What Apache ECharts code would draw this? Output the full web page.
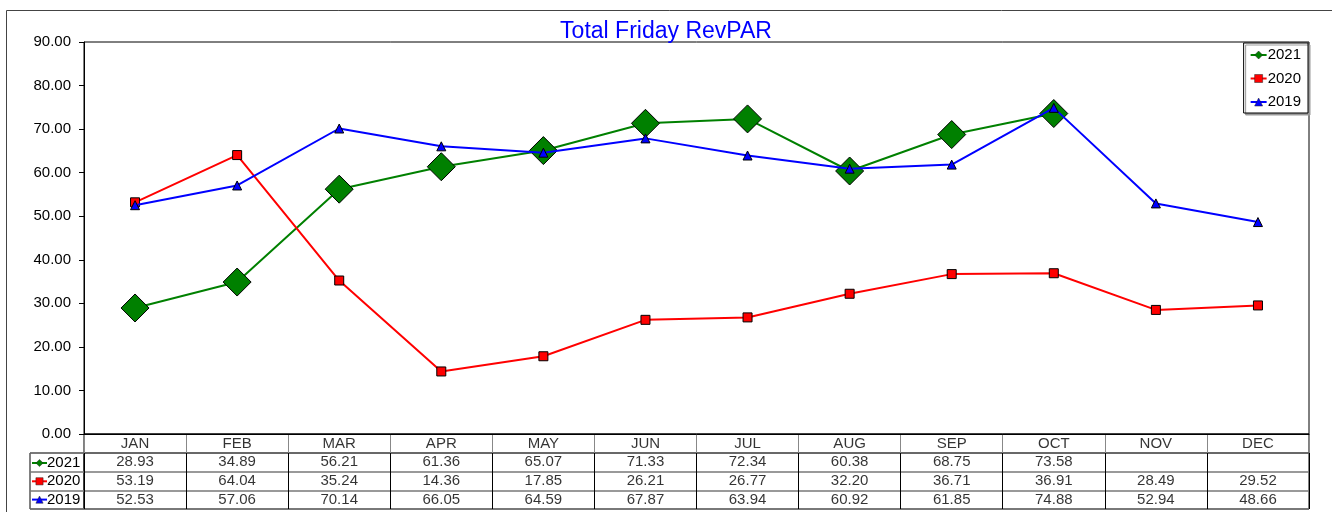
<!DOCTYPE html>
<html>
<head>
<meta charset="utf-8">
<title>Total Friday RevPAR</title>
<script src="https://cdn.jsdelivr.net/npm/echarts@6/dist/echarts.min.js"></script>
<style>
  html, body { margin: 0; padding: 0; background: #fff; }
  #chart { width: 1332px; height: 512px; }
</style>
</head>
<body>
<div id="chart"></div>
<script>
// Monthly Friday RevPAR by year
const months = ['JAN', 'FEB', 'MAR', 'APR', 'MAY', 'JUN', 'JUL', 'AUG', 'SEP', 'OCT', 'NOV', 'DEC'];
const years = ['2021', '2020', '2019'];
const rev2021 = [28.93, 34.89, 56.21, 61.36, 65.07, 71.33, 72.34, 60.38, 68.75, 73.58, null, null];
const rev2020 = [53.19, 64.04, 35.24, 14.36, 17.85, 26.21, 26.77, 32.20, 36.71, 36.91, 28.49, 29.52];
const rev2019 = [52.53, 57.06, 70.14, 66.05, 64.59, 67.87, 63.94, 60.92, 61.85, 74.88, 52.94, 48.66];
const yMin = 0, yMax = 90, yStep = 10;

const FONT = '"Liberation Sans", Arial, sans-serif';
const rows = [rev2021, rev2020, rev2019];

// Series styling keyed by year
const styles = {
  '2021': { color: '#008000', symbol: 'diamond', size: 28 },
  '2020': { color: '#ff0000', symbol: 'rect', size: 9 },
  '2019': { color: '#0000ff', symbol: 'triangle', size: 9 }
};

const lineSeries = years.map((y, r) => ({
  name: y,
  type: 'line',
  xAxisIndex: 0,
  yAxisIndex: 0,
  data: rows[r],
  symbol: styles[y].symbol,
  symbolSize: styles[y].size,
  showAllSymbol: true,
  connectNulls: false,
  lineStyle: { color: styles[y].color, width: 2 },
  itemStyle: { color: styles[y].color, borderColor: '#000', borderWidth: 1 },
  emphasis: { disabled: true },
  animation: false,
  z: 3 + r
}));

// Legend entries: coloured line with the series marker in the middle
const legendItems = years.map(y => ({
  name: y,
  lineStyle: { color: styles[y].color, width: 2 },
  itemStyle: { color: styles[y].color, borderColor: '#222', borderWidth: 0.5 }
}));

// Data table: header row of month names, then one row of values per year
const headerCells = months.map((m, i) => [i, 0, m]);
const valueCells = [];
rows.forEach((arr, r) => arr.forEach((v, i) => {
  if (v !== null) valueCells.push([i, r, v]);
}));

const cellLabel = {
  show: true,
  position: 'inside',
  color: '#000',
  fontSize: 15,
  fontFamily: FONT
};

const chart = echarts.init(document.getElementById('chart'), null, { renderer: 'canvas' });

chart.setOption({
  animation: false,
  backgroundColor: '#fff',
  title: {
    text: 'Total Friday RevPAR',
    left: 'center',
    top: 15,
    textStyle: { color: '#0000ff', fontSize: 23, fontWeight: 'normal', fontFamily: FONT }
  },
  graphic: [{
    type: 'rect',
    left: 4, top: 8,
    shape: { width: 1400, height: 600 },
    style: { fill: 'none', stroke: '#444', lineWidth: 1 },
    silent: true,
    z: -1
  }],
  legend: [{
    data: legendItems,
    orient: 'vertical',
    right: 24,
    top: 43,
    padding: [4, 7, 3, 6],
    itemGap: 7.5,
    itemWidth: 16,
    itemHeight: 10,
    backgroundColor: '#fff',
    borderColor: '#000',
    borderWidth: 1,
    shadowColor: '#999',
    shadowOffsetX: 2,
    shadowOffsetY: 2,
    shadowBlur: 0,
    selectedMode: false,
    textStyle: { color: '#000', fontSize: 15, lineHeight: 16, fontFamily: FONT, padding: [0, 0, 0, -4] }
  }, {
    data: legendItems,
    orient: 'vertical',
    left: 31,
    top: 455,
    padding: 0,
    itemGap: 2.3,
    itemWidth: 15,
    itemHeight: 9,
    selectedMode: false,
    textStyle: { color: '#000', fontSize: 15, lineHeight: 16, fontFamily: FONT, padding: [0, 0, 0, -5] }
  }],
  grid: [
    // plot area
    { left: 84, right: 23, top: 42, height: 392, show: true, borderColor: '#000', borderWidth: 1, containLabel: false },
    // table header row
    { left: 84, right: 23, top: 434, height: 19, show: true, borderColor: '#000', borderWidth: 1 },
    // table value rows
    { left: 84, right: 23, top: 453, height: 56, show: true, borderColor: '#000', borderWidth: 1 },
    // table key column
    { left: 30, width: 54, top: 453, height: 56, show: true, borderColor: '#000', borderWidth: 1 }
  ],
  xAxis: [
    {
      gridIndex: 0, type: 'category', data: months, boundaryGap: true,
      axisLine: { show: true, lineStyle: { color: '#000', width: 1 } },
      axisTick: { show: false }, axisLabel: { show: false }, splitLine: { show: false }
    },
    {
      gridIndex: 1, type: 'category', data: months, boundaryGap: true,
      axisLine: { show: false }, axisTick: { show: false }, axisLabel: { show: false },
      splitLine: { show: true, lineStyle: { color: '#888', width: 1 } }
    },
    {
      gridIndex: 2, type: 'category', data: months, boundaryGap: true,
      axisLine: { show: false }, axisTick: { show: false }, axisLabel: { show: false },
      splitLine: { show: true, lineStyle: { color: '#000', width: 1 } }
    },
    {
      gridIndex: 3, type: 'value', min: 0, max: 1, show: false
    }
  ],
  yAxis: [
    {
      gridIndex: 0, type: 'value', min: yMin, max: yMax, interval: yStep,
      axisLine: { show: true, lineStyle: { color: '#000', width: 1 } },
      axisTick: { show: true, length: 5, lineStyle: { color: '#000' } },
      axisLabel: {
        color: '#000', fontSize: 15, fontFamily: FONT, margin: 13,
        formatter: v => v.toFixed(2)
      },
      splitLine: { show: false }
    },
    {
      gridIndex: 1, type: 'category', data: [''], show: false
    },
    {
      gridIndex: 2, type: 'category', data: years, inverse: true, boundaryGap: true,
      axisLine: { show: false }, axisTick: { show: false }, axisLabel: { show: false },
      splitLine: { show: true, lineStyle: { color: '#777', width: 1.5 } }
    },
    {
      gridIndex: 3, type: 'category', data: years, inverse: true, boundaryGap: true,
      axisLine: { show: false }, axisTick: { show: false }, axisLabel: { show: false },
      splitLine: { show: true, lineStyle: { color: '#777', width: 1.5 } }
    }
  ],
  series: [
    ...lineSeries,
    {
      name: 'months',
      type: 'scatter',
      xAxisIndex: 1, yAxisIndex: 1,
      data: headerCells,
      symbolSize: 0,
      silent: true,
      label: Object.assign({}, cellLabel, { formatter: p => p.value[2] })
    },
    {
      name: 'values',
      type: 'scatter',
      xAxisIndex: 2, yAxisIndex: 2,
      data: valueCells,
      symbolSize: 0,
      silent: true,
      label: Object.assign({}, cellLabel, { formatter: p => p.value[2].toFixed(2) })
    }
  ]
});
</script>
</body>
</html>
